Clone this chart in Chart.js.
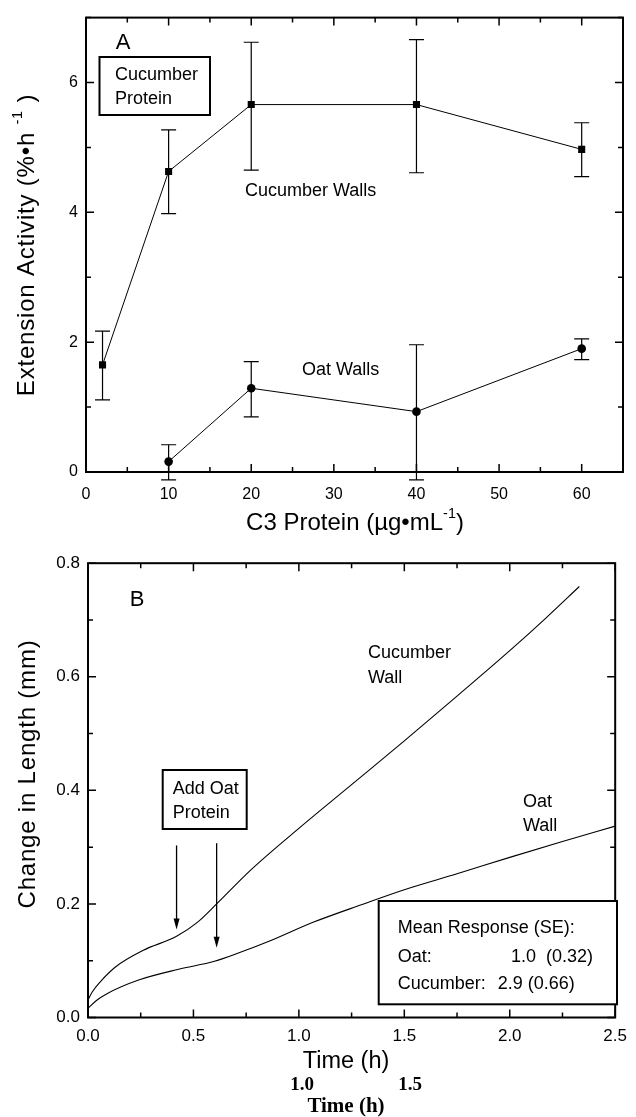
<!DOCTYPE html>
<html>
<head>
<meta charset="utf-8">
<script src="https://cdn.jsdelivr.net/npm/chart.js@4.4.1/dist/chart.umd.min.js"></script>
<style>
  body { margin: 0; background: #fff; width: 636px; height: 1117px; overflow: hidden; position: relative; }
  canvas { position: absolute; left: 0; }
  #chartA { top: 0; }
  #chartB { top: 545px; }
</style>
</head>
<body>
<canvas id="chartA" width="636" height="545"></canvas>
<canvas id="chartB" width="636" height="572"></canvas>
<script>
// Panel A - extension activity vs C3 protein
const cucProtein = [2, 10, 20, 40, 60];
const cucMean = [1.65, 4.63, 5.66, 5.66, 4.97];
const cucLo = [1.11, 3.98, 4.65, 4.61, 4.55];
const cucHi = [2.17, 5.27, 6.62, 6.66, 5.38];

const oatProtein = [10, 20, 40, 60];
const oatMean = [0.16, 1.29, 0.93, 1.90];
const oatLo = [-0.12, 0.85, -0.12, 1.73];
const oatHi = [0.42, 1.70, 1.96, 2.05];

const xTicksA = [0, 10, 20, 30, 40, 50, 60];
const yTicksA = [0, 2, 4, 6];

// Panel B - change in length over time
const cucTime = [0, 0.02, 0.056, 0.13, 0.26, 0.42, 0.52, 0.61, 0.77, 1.0, 1.25, 1.5, 1.75, 2.0, 2.17, 2.33];
const cucLength = [0.031, 0.045, 0.062, 0.089, 0.118, 0.143, 0.168, 0.2, 0.259, 0.333, 0.41, 0.487, 0.566, 0.646, 0.703, 0.759];

const oatTime = [0, 0.04, 0.09, 0.24, 0.43, 0.6, 0.71, 0.87, 1.07, 1.3, 1.5, 1.75, 2.0, 2.25, 2.5];
const oatLength = [0.016, 0.03, 0.042, 0.066, 0.085, 0.099, 0.113, 0.136, 0.168, 0.199, 0.225, 0.253, 0.282, 0.31, 0.337];

const xTicksB = ['0.0', '0.5', '1.0', '1.5', '2.0', '2.5'];
const yTicksB = ['0.0', '0.2', '0.4', '0.6', '0.8'];

const SANS = '"Liberation Sans", Arial, Helvetica, sans-serif';
const SERIF = '"Liberation Serif", "Times New Roman", serif';

// error bars, drawn through the chart scales
const errorBars = {
    id: 'errorBars',
    beforeDatasetsDraw(chart) {
        const { ctx, scales: { x, y } } = chart;
        ctx.save();
        ctx.strokeStyle = '#000';
        ctx.lineWidth = 1.2;
        chart.data.datasets.forEach(ds => {
            if (!ds.lo) return;
            ds.data.forEach((p, i) => {
                const px = x.getPixelForValue(p.x);
                const lo = y.getPixelForValue(ds.lo[i]);
                const hi = y.getPixelForValue(ds.hi[i]);
                ctx.beginPath();
                ctx.moveTo(px, lo); ctx.lineTo(px, hi);
                ctx.moveTo(px - 7.5, lo); ctx.lineTo(px + 7.5, lo);
                ctx.moveTo(px - 7.5, hi); ctx.lineTo(px + 7.5, hi);
                ctx.stroke();
            });
        });
        ctx.restore();
    }
};

// box frame with inward ticks on all four sides
const frameTicks = {
    id: 'frameTicks',
    afterDraw(chart) {
        const { ctx, chartArea: a, scales: { x, y } } = chart;
        ctx.save();
        ctx.strokeStyle = '#000';
        ctx.lineWidth = 2;
        ctx.strokeRect(a.left, a.top, a.right - a.left, a.bottom - a.top);
        ctx.lineWidth = 1.5;
        ctx.beginPath();
        x.ticks.forEach(t => {
            const px = x.getPixelForValue(t.value);
            const len = t.label !== '' ? 8 : 5;
            ctx.moveTo(px, a.bottom); ctx.lineTo(px, a.bottom - len);
            ctx.moveTo(px, a.top); ctx.lineTo(px, a.top + len);
        });
        y.ticks.forEach(t => {
            const py = y.getPixelForValue(t.value);
            const len = t.label !== '' ? 8 : 5;
            ctx.moveTo(a.left, py); ctx.lineTo(a.left + len, py);
            ctx.moveTo(a.right, py); ctx.lineTo(a.right - len, py);
        });
        ctx.stroke();
        ctx.restore();
    }
};

// text with a superscript part, centred on (cx, cy)
function drawTitle(ctx, parts, cx, cy, rot, size, spacing) {
    ctx.save();
    ctx.translate(cx, cy);
    ctx.rotate(rot);
    ctx.textAlign = 'left';
    ctx.textBaseline = 'middle';
    ctx.fillStyle = '#000';
    ctx.letterSpacing = (spacing || 0) + 'px';
    let w = 0;
    parts.forEach(p => {
        ctx.font = (p.sup ? size * 0.6 : size) + 'px ' + SANS;
        w += ctx.measureText(p.t).width;
    });
    let px = -w / 2;
    parts.forEach(p => {
        ctx.font = (p.sup ? size * 0.6 : size) + 'px ' + SANS;
        ctx.fillText(p.t, px, p.sup ? -size * 0.38 : 0);
        px += ctx.measureText(p.t).width;
    });
    ctx.restore();
}

function text(ctx, s, x, y, font, align) {
    ctx.font = font;
    ctx.textAlign = align || 'left';
    ctx.textBaseline = 'middle';
    ctx.fillStyle = '#000';
    ctx.fillText(s, x, y);
}

function arrowDown(ctx, x, y0, y1) {
    ctx.beginPath();
    ctx.moveTo(x, y0); ctx.lineTo(x, y1 - 8);
    ctx.stroke();
    ctx.beginPath();
    ctx.moveTo(x - 3, y1 - 11); ctx.lineTo(x + 3, y1 - 11); ctx.lineTo(x, y1);
    ctx.closePath();
    ctx.fill();
}

const notesA = {
    id: 'notesA',
    afterDraw(chart) {
        const ctx = chart.ctx;
        ctx.save();
        text(ctx, 'A', 123, 43, '22px ' + SANS, 'center');
        ctx.strokeStyle = '#000';
        ctx.lineWidth = 2;
        ctx.strokeRect(99.5, 57, 110.5, 58);
        text(ctx, 'Cucumber', 115, 75, '18px ' + SANS);
        text(ctx, 'Protein', 115, 99, '18px ' + SANS);
        text(ctx, 'Cucumber Walls', 245, 191, '18px ' + SANS);
        text(ctx, 'Oat Walls', 302, 370, '18px ' + SANS);
        drawTitle(ctx, [{ t: 'Extension Activity (%•h ' }, { t: '-1', sup: true }, { t: ' )' }], 27, 245, -Math.PI / 2, 24, 0.8);
        drawTitle(ctx, [{ t: 'C3 Protein (µg•mL' }, { t: '-1', sup: true }, { t: ')' }], 355, 523, 0, 24);
        ctx.restore();
    }
};

const notesB = {
    id: 'notesB',
    afterDraw(chart) {
        const { ctx, scales: { x, y } } = chart;
        ctx.save();
        ctx.strokeStyle = '#000';
        ctx.fillStyle = '#000';
        text(ctx, 'B', 137, 55, '22px ' + SANS, 'center');
        ctx.lineWidth = 2;
        ctx.strokeRect(162.7, 225, 84, 59);
        text(ctx, 'Add Oat', 172.7, 244.5, '18px ' + SANS);
        text(ctx, 'Protein', 172.7, 268.5, '18px ' + SANS);
        ctx.lineWidth = 1.3;
        arrowDown(ctx, x.getPixelForValue(0.42), y.getPixelForValue(0.303), y.getPixelForValue(0.155));
        arrowDown(ctx, x.getPixelForValue(0.61), y.getPixelForValue(0.307), y.getPixelForValue(0.123));
        text(ctx, 'Cucumber', 368, 108, '18px ' + SANS);
        text(ctx, 'Wall', 368, 133, '18px ' + SANS);
        text(ctx, 'Oat', 523, 257, '18px ' + SANS);
        text(ctx, 'Wall', 523, 281, '18px ' + SANS);
        ctx.lineWidth = 2;
        ctx.fillStyle = '#fff';
        ctx.fillRect(378.7, 356, 238.3, 103.3);
        ctx.strokeRect(378.7, 356, 238.3, 103.3);
        text(ctx, 'Mean Response (SE):', 397.7, 383, '18px ' + SANS);
        text(ctx, 'Oat:', 397.7, 412, '18px ' + SANS);
        text(ctx, '1.0  (0.32)', 511, 412, '18px ' + SANS);
        text(ctx, 'Cucumber:', 397.7, 439, '18px ' + SANS);
        text(ctx, '2.9 (0.66)', 497.7, 439, '18px ' + SANS);
        drawTitle(ctx, [{ t: 'Change in Length (mm)' }], 28, 229, -Math.PI / 2, 24, 0.8);
        drawTitle(ctx, [{ t: 'Time (h)' }], 346, 517, 0, 23.5);
        text(ctx, '1.0', 302, 540, 'bold 19px ' + SERIF, 'center');
        text(ctx, '1.5', 410, 540, 'bold 19px ' + SERIF, 'center');
        text(ctx, 'Time (h)', 346, 562, 'bold 21px ' + SERIF, 'center');
        ctx.restore();
    }
};

const tickFontA = { family: SANS, size: 16 };
const tickFontB = { family: SANS, size: 17 };

new Chart(document.getElementById('chartA'), {
    type: 'line',
    data: {
        datasets: [
            {
                label: 'Cucumber Walls',
                data: cucProtein.map((v, i) => ({ x: v, y: cucMean[i] })),
                lo: cucLo, hi: cucHi,
                borderColor: '#000', borderWidth: 1,
                pointStyle: 'rect', pointRadius: 5,
                pointBackgroundColor: '#000', pointBorderColor: '#000', pointBorderWidth: 0
            },
            {
                label: 'Oat Walls',
                data: oatProtein.map((v, i) => ({ x: v, y: oatMean[i] })),
                lo: oatLo, hi: oatHi,
                borderColor: '#000', borderWidth: 1,
                pointStyle: 'circle', pointRadius: 4.3,
                pointBackgroundColor: '#000', pointBorderColor: '#000', pointBorderWidth: 0
            }
        ]
    },
    options: {
        responsive: false,
        animation: false,
        layout: { padding: { top: 14, right: 6, left: 0, bottom: 0 } },
        plugins: { legend: { display: false }, tooltip: { enabled: false } },
        scales: {
            x: {
                type: 'linear', min: 0, max: 65,
                grid: { display: false, drawTicks: false },
                border: { display: false },
                ticks: {
                    stepSize: 5, autoSkip: false, maxRotation: 0, padding: 13,
                    color: '#000', font: tickFontA,
                    callback: v => xTicksA.includes(v) ? String(v) : ''
                },
                afterFit: s => { s.height = 73; }
            },
            y: {
                min: 0, max: 7,
                grid: { display: false, drawTicks: false },
                border: { display: false },
                ticks: {
                    stepSize: 1, autoSkip: false, padding: 8,
                    color: '#000', font: tickFontA,
                    callback: v => yTicksA.includes(v) ? String(v) : ''
                },
                afterFit: s => { s.width = 86; }
            }
        }
    },
    plugins: [errorBars, frameTicks, notesA]
});

new Chart(document.getElementById('chartB'), {
    type: 'line',
    data: {
        datasets: [
            {
                label: 'Cucumber Wall',
                data: cucTime.map((t, i) => ({ x: t, y: cucLength[i] })),
                borderColor: '#000', borderWidth: 1.1, pointRadius: 0,
                cubicInterpolationMode: 'monotone'
            },
            {
                label: 'Oat Wall',
                data: oatTime.map((t, i) => ({ x: t, y: oatLength[i] })),
                borderColor: '#000', borderWidth: 1.1, pointRadius: 0,
                cubicInterpolationMode: 'monotone'
            }
        ]
    },
    options: {
        responsive: false,
        animation: false,
        layout: { padding: { top: 16.5, right: 13, left: 0, bottom: 0 } },
        plugins: { legend: { display: false }, tooltip: { enabled: false } },
        scales: {
            x: {
                type: 'linear', min: 0, max: 2.5,
                grid: { display: false, drawTicks: false },
                border: { display: false },
                ticks: {
                    stepSize: 0.25, autoSkip: false, maxRotation: 0, padding: 9,
                    color: '#000', font: tickFontB,
                    callback: v => Math.round(v * 100) % 50 === 0 && xTicksB.includes(v.toFixed(1)) ? v.toFixed(1) : ''
                },
                afterFit: s => { s.height = 99.5; }
            },
            y: {
                min: 0, max: 0.8,
                grid: { display: false, drawTicks: false },
                border: { display: false },
                ticks: {
                    stepSize: 0.1, autoSkip: false, padding: 8,
                    color: '#000', font: tickFontB,
                    callback: v => Math.round(v * 100) % 20 === 0 && yTicksB.includes(v.toFixed(1)) ? v.toFixed(1) : ''
                },
                afterFit: s => { s.width = 88; }
            }
        }
    },
    plugins: [frameTicks, notesB]
});
</script>
</body>
</html>
